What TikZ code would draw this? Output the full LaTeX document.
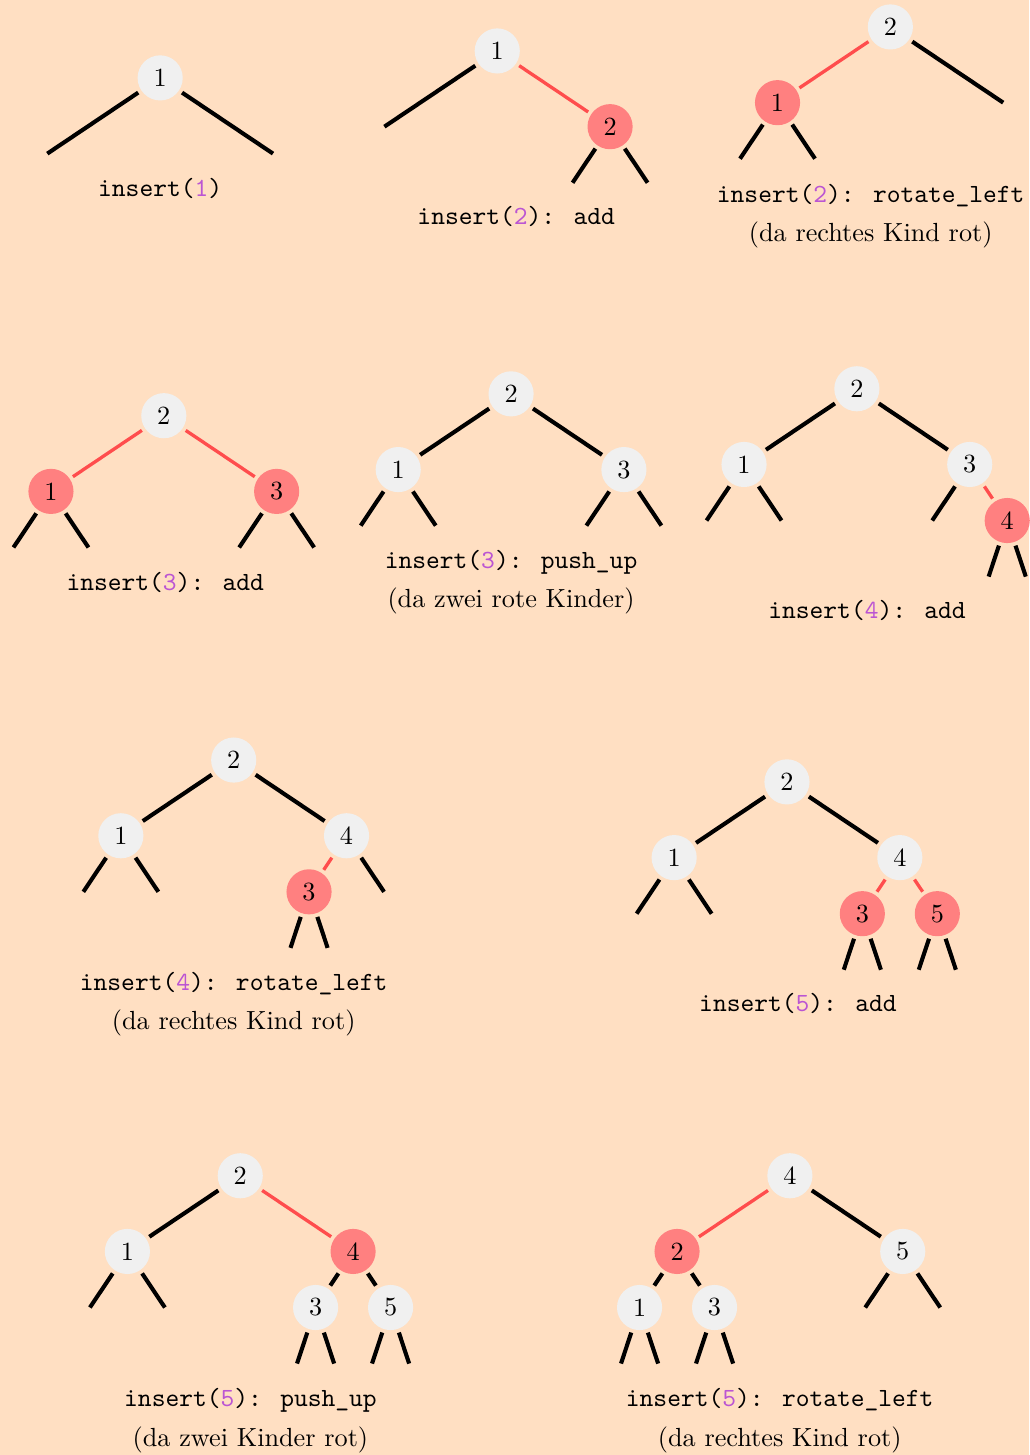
\documentclass[tikz,border=0pt]{standalone}
\usepackage{fontspec}
\usepackage{xcolor}
\usepackage{tikz}
\usetikzlibrary{calc}
\definecolor{paper}{RGB}{255,223,194}
\definecolor{nodegray}{RGB}{240,240,240}
\definecolor{nodered}{RGB}{255,128,128}
\definecolor{edgered}{RGB}{255,77,77}
\definecolor{keycolor}{RGB}{187,85,211}
\newcommand{\insval}[1]{\textcolor{keycolor}{#1}}

\begin{document}
\fontsize{10.25}{12.3}\selectfont
\begin{tikzpicture}[
    blk/.style={circle, fill=nodegray, minimum size=0.62cm, inner sep=0pt, outer sep=1.5pt},
    rd/.style={blk, fill=nodered},
    link/.style={line width=1.6pt, black},
    redlink/.style={line width=1.3pt, edgered},
    opname/.style={anchor=base, font=\ttfamily},
    note/.style={anchor=base}
]
    % Background
    \fill[paper] (0,0) rectangle (14.135,-19.986);
    \useasboundingbox (0,0) rectangle (14.135,-19.986);

    % insert(1)
    \node[blk] (t1n1) at (2.20,-1.07) {1};
    \coordinate (t1s1) at ($(t1n1)+(-1.55,-1.04)$);
    \coordinate (t1s2) at ($(t1n1)+(1.55,-1.04)$);
    \draw[link] (t1n1) -- (t1s1);
    \draw[link] (t1n1) -- (t1s2);
    \node[opname] (t1c) at (2.20,-2.70) {insert(\insval{1})};

    % insert(2): add
    \node[blk] (t2n1) at (6.83,-0.70) {1};
    \node[rd] (t2n2) at ($(t2n1)+(1.55,-1.04)$) {2};
    \coordinate (t2s1) at ($(t2n1)+(-1.55,-1.04)$);
    \coordinate (t2s2) at ($(t2n2)+(-0.515,-0.77)$);
    \coordinate (t2s3) at ($(t2n2)+(0.515,-0.77)$);
    \draw[link] (t2n1) -- (t2s1);
    \draw[redlink] (t2n1) -- (t2n2);
    \draw[link] (t2n2) -- (t2s2);
    \draw[link] (t2n2) -- (t2s3);
    \node[opname] (t2c) at (7.09,-3.09) {insert(\insval{2}): add};

    % insert(2): rotate_left
    \node[blk] (t3n2) at (12.23,-0.37) {2};
    \node[rd] (t3n1) at ($(t3n2)+(-1.55,-1.04)$) {1};
    \coordinate (t3s1) at ($(t3n2)+(1.55,-1.04)$);
    \coordinate (t3s2) at ($(t3n1)+(-0.515,-0.77)$);
    \coordinate (t3s3) at ($(t3n1)+(0.515,-0.77)$);
    \draw[redlink] (t3n2) -- (t3n1);
    \draw[link] (t3n2) -- (t3s1);
    \draw[link] (t3n1) -- (t3s2);
    \draw[link] (t3n1) -- (t3s3);
    \node[opname] (t3c) at (11.96,-2.78) {insert(\insval{2}): rotate\_left};
    \node[note] (t3d) at (11.96,-3.32) {(da rechtes Kind rot)};

    % insert(3): add
    \node[blk] (t4n2) at (2.25,-5.71) {2};
    \node[rd] (t4n1) at ($(t4n2)+(-1.55,-1.04)$) {1};
    \node[rd] (t4n3) at ($(t4n2)+(1.55,-1.04)$) {3};
    \coordinate (t4s1) at ($(t4n1)+(-0.515,-0.77)$);
    \coordinate (t4s2) at ($(t4n1)+(0.515,-0.77)$);
    \coordinate (t4s3) at ($(t4n3)+(-0.515,-0.77)$);
    \coordinate (t4s4) at ($(t4n3)+(0.515,-0.77)$);
    \draw[redlink] (t4n2) -- (t4n1);
    \draw[redlink] (t4n2) -- (t4n3);
    \draw[link] (t4n1) -- (t4s1);
    \draw[link] (t4n1) -- (t4s2);
    \draw[link] (t4n3) -- (t4s3);
    \draw[link] (t4n3) -- (t4s4);
    \node[opname] (t4c) at (2.27,-8.11) {insert(\insval{3}): add};

    % insert(3): push_up
    \node[blk] (t5n2) at (7.02,-5.41) {2};
    \node[blk] (t5n1) at ($(t5n2)+(-1.55,-1.04)$) {1};
    \node[blk] (t5n3) at ($(t5n2)+(1.55,-1.04)$) {3};
    \coordinate (t5s1) at ($(t5n1)+(-0.515,-0.77)$);
    \coordinate (t5s2) at ($(t5n1)+(0.515,-0.77)$);
    \coordinate (t5s3) at ($(t5n3)+(-0.515,-0.77)$);
    \coordinate (t5s4) at ($(t5n3)+(0.515,-0.77)$);
    \draw[link] (t5n2) -- (t5n1);
    \draw[link] (t5n2) -- (t5n3);
    \draw[link] (t5n1) -- (t5s1);
    \draw[link] (t5n1) -- (t5s2);
    \draw[link] (t5n3) -- (t5s3);
    \draw[link] (t5n3) -- (t5s4);
    \node[opname] (t5c) at (7.02,-7.81) {insert(\insval{3}): push\_up};
    \node[note] (t5d) at (7.02,-8.35) {(da zwei rote Kinder)};

    % insert(4): add
    \node[blk] (t6n2) at (11.77,-5.34) {2};
    \node[blk] (t6n1) at ($(t6n2)+(-1.55,-1.04)$) {1};
    \node[blk] (t6n3) at ($(t6n2)+(1.55,-1.04)$) {3};
    \node[rd] (t6n4) at ($(t6n3)+(0.515,-0.77)$) {4};
    \coordinate (t6s1) at ($(t6n1)+(-0.515,-0.77)$);
    \coordinate (t6s2) at ($(t6n1)+(0.515,-0.77)$);
    \coordinate (t6s3) at ($(t6n3)+(-0.515,-0.77)$);
    \coordinate (t6s4) at ($(t6n4)+(-0.255,-0.77)$);
    \coordinate (t6s5) at ($(t6n4)+(0.255,-0.77)$);
    \draw[link] (t6n2) -- (t6n1);
    \draw[link] (t6n2) -- (t6n3);
    \draw[link] (t6n1) -- (t6s1);
    \draw[link] (t6n1) -- (t6s2);
    \draw[link] (t6n3) -- (t6s3);
    \draw[redlink] (t6n3) -- (t6n4);
    \draw[link] (t6n4) -- (t6s4);
    \draw[link] (t6n4) -- (t6s5);
    \node[opname] (t6c) at (11.91,-8.50) {insert(\insval{4}): add};

    % insert(4): rotate_left
    \node[blk] (t7n2) at (3.21,-10.44) {2};
    \node[blk] (t7n1) at ($(t7n2)+(-1.55,-1.04)$) {1};
    \node[blk] (t7n4) at ($(t7n2)+(1.55,-1.04)$) {4};
    \node[rd] (t7n3) at ($(t7n4)+(-0.515,-0.77)$) {3};
    \coordinate (t7s1) at ($(t7n1)+(-0.515,-0.77)$);
    \coordinate (t7s2) at ($(t7n1)+(0.515,-0.77)$);
    \coordinate (t7s3) at ($(t7n4)+(0.515,-0.77)$);
    \coordinate (t7s4) at ($(t7n3)+(-0.255,-0.77)$);
    \coordinate (t7s5) at ($(t7n3)+(0.255,-0.77)$);
    \draw[link] (t7n2) -- (t7n1);
    \draw[link] (t7n2) -- (t7n4);
    \draw[link] (t7n1) -- (t7s1);
    \draw[link] (t7n1) -- (t7s2);
    \draw[redlink] (t7n4) -- (t7n3);
    \draw[link] (t7n4) -- (t7s3);
    \draw[link] (t7n3) -- (t7s4);
    \draw[link] (t7n3) -- (t7s5);
    \node[opname] (t7c) at (3.21,-13.61) {insert(\insval{4}): rotate\_left};
    \node[note] (t7d) at (3.21,-14.14) {(da rechtes Kind rot)};

    % insert(5): add
    \node[blk] (t8n2) at (10.81,-10.74) {2};
    \node[blk] (t8n1) at ($(t8n2)+(-1.55,-1.04)$) {1};
    \node[blk] (t8n4) at ($(t8n2)+(1.55,-1.04)$) {4};
    \node[rd] (t8n3) at ($(t8n4)+(-0.515,-0.77)$) {3};
    \node[rd] (t8n5) at ($(t8n4)+(0.515,-0.77)$) {5};
    \coordinate (t8s1) at ($(t8n1)+(-0.515,-0.77)$);
    \coordinate (t8s2) at ($(t8n1)+(0.515,-0.77)$);
    \coordinate (t8s3) at ($(t8n3)+(-0.255,-0.77)$);
    \coordinate (t8s4) at ($(t8n3)+(0.255,-0.77)$);
    \coordinate (t8s5) at ($(t8n5)+(-0.255,-0.77)$);
    \coordinate (t8s6) at ($(t8n5)+(0.255,-0.77)$);
    \draw[link] (t8n2) -- (t8n1);
    \draw[link] (t8n2) -- (t8n4);
    \draw[link] (t8n1) -- (t8s1);
    \draw[link] (t8n1) -- (t8s2);
    \draw[redlink] (t8n4) -- (t8n3);
    \draw[redlink] (t8n4) -- (t8n5);
    \draw[link] (t8n3) -- (t8s3);
    \draw[link] (t8n3) -- (t8s4);
    \draw[link] (t8n5) -- (t8s5);
    \draw[link] (t8n5) -- (t8s6);
    \node[opname] (t8c) at (10.96,-13.90) {insert(\insval{5}): add};

    % insert(5): push_up
    \node[blk] (t9n2) at (3.30,-16.15) {2};
    \node[blk] (t9n1) at ($(t9n2)+(-1.55,-1.04)$) {1};
    \node[rd] (t9n4) at ($(t9n2)+(1.55,-1.04)$) {4};
    \node[blk] (t9n3) at ($(t9n4)+(-0.515,-0.77)$) {3};
    \node[blk] (t9n5) at ($(t9n4)+(0.515,-0.77)$) {5};
    \coordinate (t9s1) at ($(t9n1)+(-0.515,-0.77)$);
    \coordinate (t9s2) at ($(t9n1)+(0.515,-0.77)$);
    \coordinate (t9s3) at ($(t9n3)+(-0.255,-0.77)$);
    \coordinate (t9s4) at ($(t9n3)+(0.255,-0.77)$);
    \coordinate (t9s5) at ($(t9n5)+(-0.255,-0.77)$);
    \coordinate (t9s6) at ($(t9n5)+(0.255,-0.77)$);
    \draw[link] (t9n2) -- (t9n1);
    \draw[redlink] (t9n2) -- (t9n4);
    \draw[link] (t9n1) -- (t9s1);
    \draw[link] (t9n1) -- (t9s2);
    \draw[link] (t9n4) -- (t9n3);
    \draw[link] (t9n4) -- (t9n5);
    \draw[link] (t9n3) -- (t9s3);
    \draw[link] (t9n3) -- (t9s4);
    \draw[link] (t9n5) -- (t9s5);
    \draw[link] (t9n5) -- (t9s6);
    \node[opname] (t9c) at (3.44,-19.32) {insert(\insval{5}): push\_up};
    \node[note] (t9d) at (3.44,-19.87) {(da zwei Kinder rot)};

    % insert(5): rotate_left
    \node[blk] (t10n4) at (10.85,-16.15) {4};
    \node[rd] (t10n2) at ($(t10n4)+(-1.55,-1.04)$) {2};
    \node[blk] (t10n5) at ($(t10n4)+(1.55,-1.04)$) {5};
    \node[blk] (t10n1) at ($(t10n2)+(-0.515,-0.77)$) {1};
    \node[blk] (t10n3) at ($(t10n2)+(0.515,-0.77)$) {3};
    \coordinate (t10s1) at ($(t10n1)+(-0.255,-0.77)$);
    \coordinate (t10s2) at ($(t10n1)+(0.255,-0.77)$);
    \coordinate (t10s3) at ($(t10n3)+(-0.255,-0.77)$);
    \coordinate (t10s4) at ($(t10n3)+(0.255,-0.77)$);
    \coordinate (t10s5) at ($(t10n5)+(-0.515,-0.77)$);
    \coordinate (t10s6) at ($(t10n5)+(0.515,-0.77)$);
    \draw[redlink] (t10n4) -- (t10n2);
    \draw[link] (t10n4) -- (t10n5);
    \draw[link] (t10n2) -- (t10n1);
    \draw[link] (t10n2) -- (t10n3);
    \draw[link] (t10n1) -- (t10s1);
    \draw[link] (t10n1) -- (t10s2);
    \draw[link] (t10n3) -- (t10s3);
    \draw[link] (t10n3) -- (t10s4);
    \draw[link] (t10n5) -- (t10s5);
    \draw[link] (t10n5) -- (t10s6);
    \node[opname] (t10c) at (10.71,-19.32) {insert(\insval{5}): rotate\_left};
    \node[note] (t10d) at (10.71,-19.87) {(da rechtes Kind rot)};
\end{tikzpicture}
\end{document}
